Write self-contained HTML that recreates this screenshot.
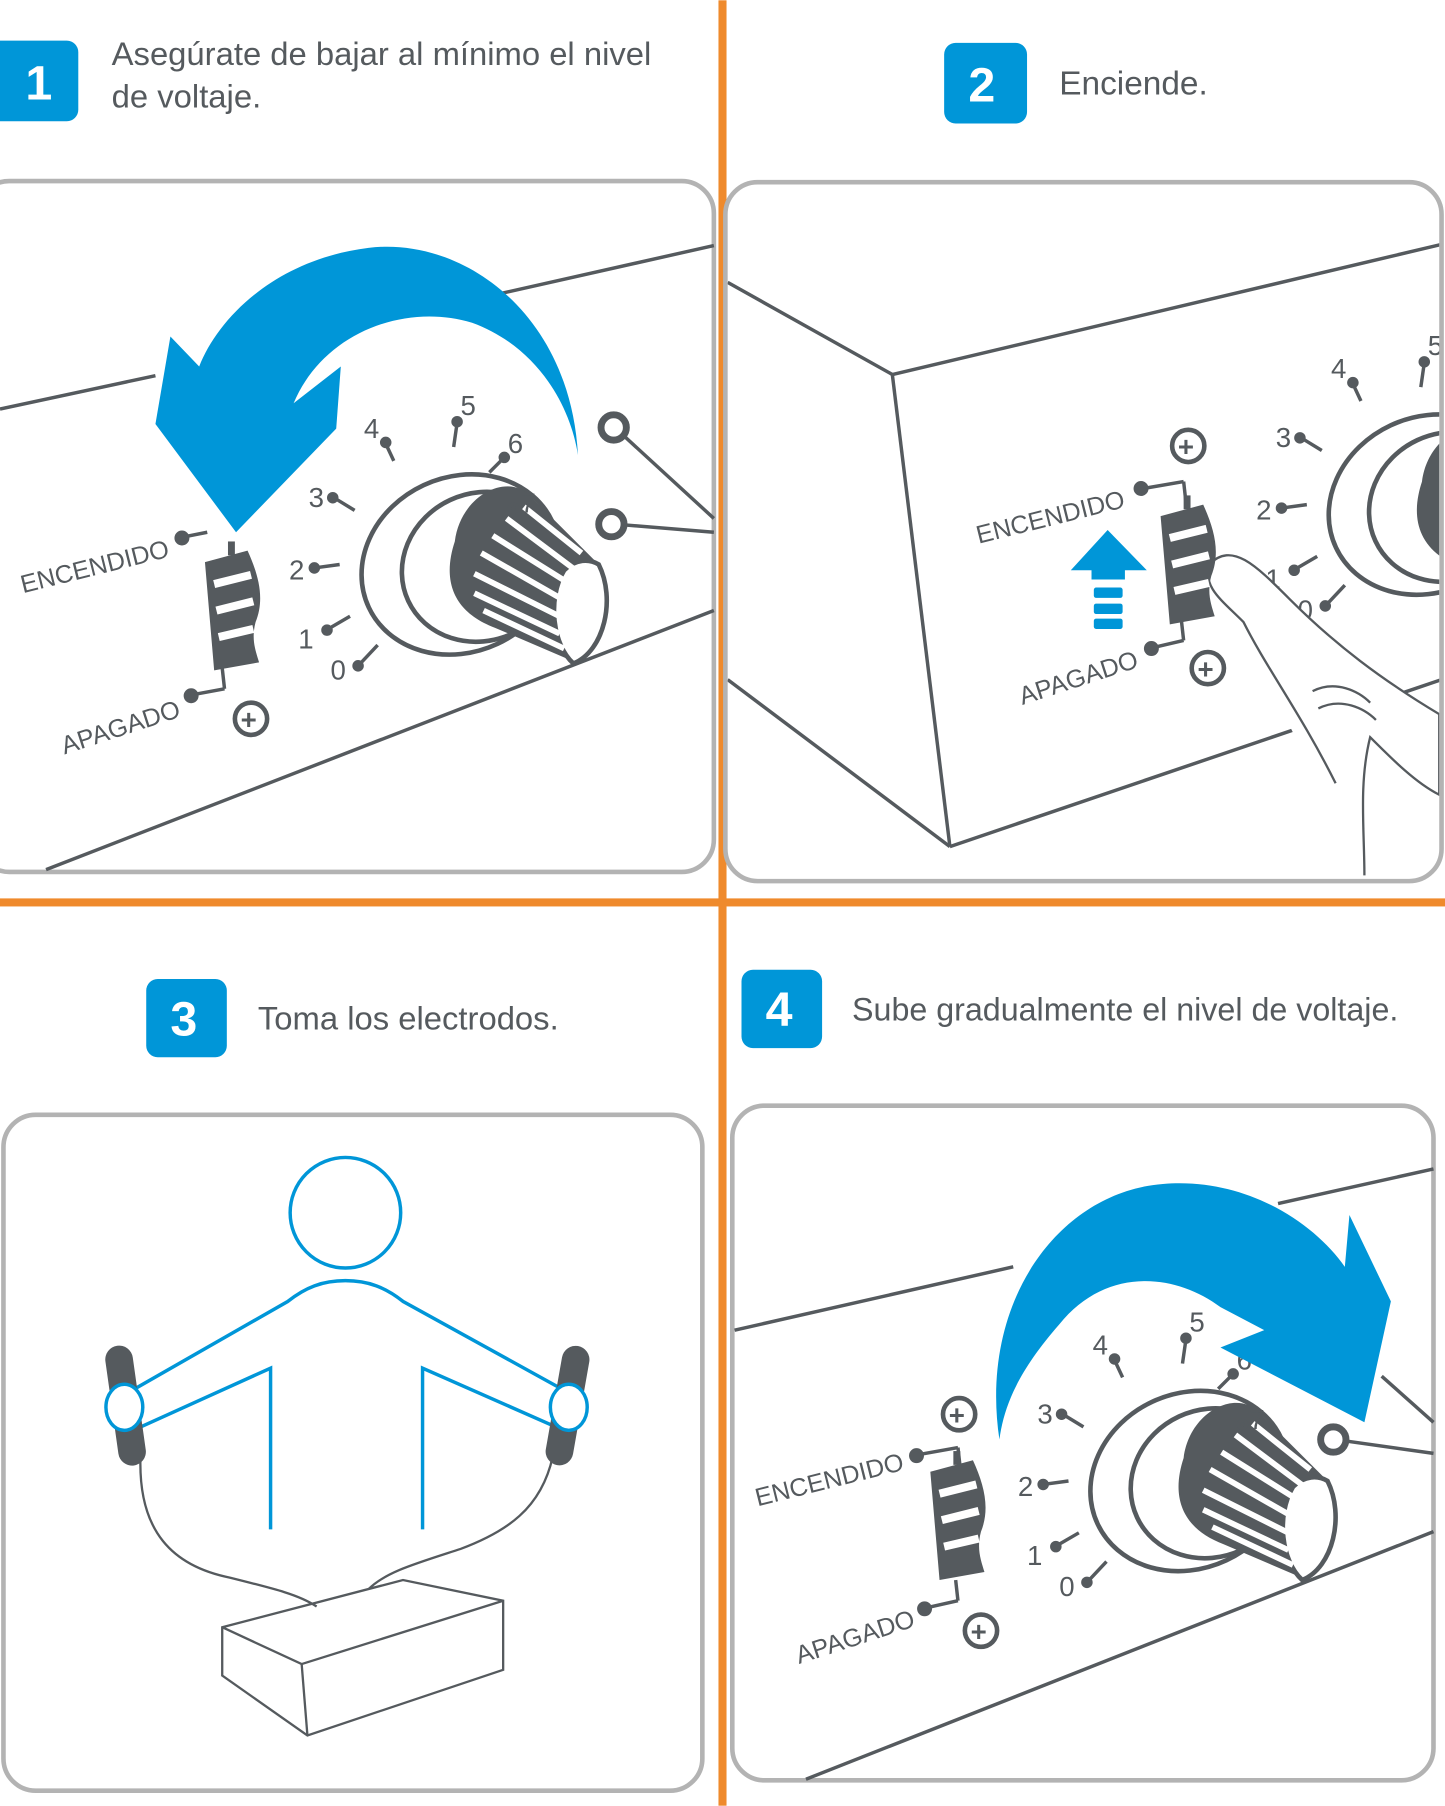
<!DOCTYPE html>
<html><head><meta charset="utf-8"><style>
html,body{margin:0;padding:0;background:#fff;}
svg{display:block;}
text{font-family:"Liberation Sans",sans-serif;}
</style></head><body>
<svg width="1445" height="1806" viewBox="0 0 1255 1568" xmlns="http://www.w3.org/2000/svg">
<defs>
<clipPath id="c2"><rect x="632" y="160" width="618" height="603" rx="26"/></clipPath>
<g id="knob">
  <ellipse cx="400" cy="490" rx="88" ry="76" transform="rotate(-25 400 490)" fill="#fff" stroke="#555a5e" stroke-width="4"/>
  <ellipse cx="418" cy="492" rx="70" ry="64" transform="rotate(-25 418 492)" fill="#fff" stroke="#555a5e" stroke-width="4"/>
  <path d="M395,470 C400,430 440,410 460,430 L520,490 C535,520 520,560 500,575 L430,545 C390,530 385,500 395,470 Z" fill="#555a5e"/>
  <path d="M520,490 C535,520 525,565 498,576 C480,560 475,520 490,495 C500,485 512,485 520,490 Z" fill="#fff" stroke="#555a5e" stroke-width="4"/>
  <g stroke="#fff" stroke-width="5">
    <line x1="455" y1="440" x2="505" y2="480"/><line x1="440" y1="450" x2="500" y2="495"/>
    <line x1="428" y1="465" x2="492" y2="505"/><line x1="418" y1="480" x2="488" y2="520"/>
    <line x1="412" y1="498" x2="486" y2="535"/><line x1="412" y1="515" x2="486" y2="550"/>
    <line x1="420" y1="530" x2="490" y2="563"/>
  </g>
  <g stroke="#555a5e" stroke-width="3" fill="#555a5e">
    <line x1="312" y1="577" x2="328" y2="560"/><circle cx="311" cy="578" r="3.5"/>
    <line x1="285" y1="546" x2="304" y2="535"/><circle cx="284" cy="547" r="3.5"/>
    <line x1="273" y1="493" x2="295" y2="490"/><circle cx="273" cy="493" r="3.5"/>
    <line x1="290" y1="432" x2="308" y2="443"/><circle cx="289" cy="432" r="3.5"/>
    <line x1="335" y1="385" x2="342" y2="400"/><circle cx="335" cy="384" r="3.5"/>
    <line x1="397" y1="367" x2="394" y2="388"/><circle cx="397" cy="366" r="3.5"/>
    <line x1="437" y1="398" x2="425" y2="410"/><circle cx="438" cy="397" r="3.5"/>
    <circle cx="446" cy="441" r="3.5"/>
  </g>
  <g font-size="24" fill="#555a5e">
    <text x="287" y="590">0</text><text x="259" y="563">1</text><text x="251" y="503">2</text>
    <text x="268" y="440">3</text><text x="316" y="380">4</text><text x="400" y="360">5</text>
    <text x="441" y="393">6</text><text x="452" y="445">7</text>
  </g>
</g>
<g id="switch">
  <path d="M178,488 L215,478 C225,500 230,520 222,540 C218,555 222,565 225,575 L186,582 Z" fill="#555a5e"/>
  <g stroke="#fff" stroke-width="7"><line x1="186" y1="507" x2="218" y2="499"/><line x1="188" y1="530" x2="220" y2="522"/><line x1="190" y1="553" x2="220" y2="546"/></g>
  <rect x="198" y="470" width="6" height="12" fill="#555a5e"/>
</g>
</defs>

<rect x="624" y="0" width="7" height="1568" fill="#ef8a2c"/>
<rect x="0" y="780" width="1255" height="7" fill="#ef8a2c"/>

<g font-size="29" fill="#555a5e">
<rect x="-10" y="35" width="78" height="70" rx="10" fill="#0096d8"/>
<text x="22" y="86" font-size="42" font-weight="bold" fill="#fff">1</text>
<text x="97" y="56" font-size="28.5">Asegúrate de bajar al mínimo el nivel</text>
<text x="97" y="93" font-size="28.5">de voltaje.</text>
<rect x="820" y="37" width="72" height="70" rx="10" fill="#0096d8"/>
<text x="841" y="88" font-size="42" font-weight="bold" fill="#fff">2</text>
<text x="920" y="82">Enciende.</text>
<rect x="127" y="850" width="70" height="68" rx="10" fill="#0096d8"/>
<text x="148" y="899" font-size="42" font-weight="bold" fill="#fff">3</text>
<text x="224" y="894" font-size="28.5">Toma los electrodos.</text>
<rect x="644" y="842" width="70" height="68" rx="10" fill="#0096d8"/>
<text x="665" y="891" font-size="42" font-weight="bold" fill="#fff">4</text>
<text x="740" y="886" font-size="28">Sube gradualmente el nivel de voltaje.</text>
</g>

<!-- Panel 1 -->
<g>
<rect x="-20" y="157" width="640" height="600" rx="28" fill="#fff" stroke="#b3b3b3" stroke-width="4"/>
<g stroke="#555a5e" stroke-width="3" fill="none">
<line x1="0" y1="355" x2="135" y2="326"/><line x1="300" y1="285" x2="620" y2="213"/>
<line x1="40" y1="755" x2="620" y2="530"/>
<line x1="535" y1="372" x2="620" y2="450"/><line x1="535" y1="455" x2="620" y2="462"/>
</g>
<circle cx="533" cy="371" r="11" fill="#fff" stroke="#555a5e" stroke-width="6"/>
<circle cx="531" cy="455" r="11" fill="#fff" stroke="#555a5e" stroke-width="6"/>
<use href="#knob"/>
<path d="M502,395 C495,270 400,205 320,215 C240,225 190,275 173,318 L148,292 L135,368 L205,462 L292,372 L296,318 L255,350 C280,290 350,262 410,280 C465,300 495,350 502,395 Z" fill="#0096d8"/>
<use href="#switch"/>
<g stroke="#555a5e" stroke-width="3" fill="#555a5e">
<line x1="160" y1="466" x2="180" y2="462"/><circle cx="158" cy="467" r="5"/>
<line x1="168" y1="603" x2="195" y2="598"/><line x1="195" y1="598" x2="193" y2="580"/><circle cx="166" cy="604" r="5"/>
</g>
<circle cx="218" cy="624" r="14" fill="#fff" stroke="#555a5e" stroke-width="4"/>
<text x="209" y="633" font-size="24" font-weight="bold" fill="#555a5e">+</text>
<text x="20" y="515" font-size="22" fill="#555a5e" transform="rotate(-14 20 515)">ENCENDIDO</text>
<text x="56" y="655" font-size="22" fill="#555a5e" transform="rotate(-18 56 655)">APAGADO</text>
</g>

<!-- Panel 2 -->
<g>
<rect x="630" y="158" width="622" height="607" rx="28" fill="#fff" stroke="#b3b3b3" stroke-width="4"/>
<g clip-path="url(#c2)">
<g stroke="#555a5e" stroke-width="3" fill="none">
<line x1="632" y1="245" x2="775" y2="325"/><line x1="775" y1="325" x2="1252" y2="212"/>
<line x1="775" y1="325" x2="825" y2="735"/><line x1="632" y1="590" x2="825" y2="735"/>
<line x1="825" y1="735" x2="1252" y2="590"/>
</g>
<g transform="translate(840,-52)"><use href="#knob"/></g>
<path d="M1050,490 C1070,470 1090,490 1120,520 C1160,560 1200,590 1250,620 L1250,690 C1230,680 1210,660 1190,640 C1180,680 1185,720 1185,760" fill="#fff" stroke="#555a5e" stroke-width="2"/>
<path d="M1050,490 C1045,510 1060,520 1080,540 C1100,580 1130,620 1160,680" fill="none" stroke="#555a5e" stroke-width="2"/>
<path d="M1140,600 C1160,590 1180,600 1190,610 M1145,615 C1165,605 1185,615 1195,625" fill="none" stroke="#555a5e" stroke-width="2"/>
</g>
<g transform="translate(830,-40)"><use href="#switch"/></g>
<path d="M930,495 L962,460 L996,495 L977,495 L977,503 L948,503 L948,495 Z" fill="#0096d8"/>
<rect x="950" y="510" width="25" height="9" rx="2" fill="#0096d8"/>
<rect x="950" y="524" width="25" height="9" rx="2" fill="#0096d8"/>
<rect x="950" y="537" width="25" height="9" rx="2" fill="#0096d8"/>
<g stroke="#555a5e" stroke-width="3" fill="#555a5e">
<line x1="993" y1="424" x2="1028" y2="418"/><line x1="1028" y1="418" x2="1030" y2="436"/><circle cx="991" cy="424" r="5"/>
<line x1="1002" y1="562" x2="1028" y2="556"/><line x1="1028" y1="556" x2="1026" y2="538"/><circle cx="1000" cy="563" r="5"/>
</g>
<circle cx="1032" cy="387" r="14" fill="#fff" stroke="#555a5e" stroke-width="4"/><text x="1023" y="396" font-size="24" font-weight="bold" fill="#555a5e">+</text>
<circle cx="1049" cy="580" r="14" fill="#fff" stroke="#555a5e" stroke-width="4"/><text x="1040" y="589" font-size="24" font-weight="bold" fill="#555a5e">+</text>
<text x="850" y="472" font-size="22" fill="#555a5e" transform="rotate(-14 850 472)">ENCENDIDO</text>
<text x="888" y="612" font-size="22" fill="#555a5e" transform="rotate(-18 888 612)">APAGADO</text>
</g>

<!-- Panel 3 -->
<g>
<rect x="3" y="968" width="607" height="587" rx="28" fill="#fff" stroke="#b3b3b3" stroke-width="4"/>
<circle cx="300" cy="1053" r="48" fill="none" stroke="#0096d8" stroke-width="3"/>
<g stroke="#0096d8" stroke-width="3" fill="none">
<path d="M110,1210 L250,1130 C265,1118 280,1112 300,1112 C320,1112 335,1118 350,1130 L495,1210"/>
<path d="M120,1240 L235,1188 L235,1328"/>
<path d="M485,1240 L367,1188 L367,1328"/>
</g>
<g stroke="#555a5e" stroke-width="2" fill="none">
<path d="M122,1265 C120,1330 150,1360 200,1370 C240,1380 260,1385 275,1395"/>
<path d="M480,1265 C470,1310 440,1330 400,1345 C360,1358 335,1365 320,1380"/>
<polygon points="193,1413 350,1372 437,1390 437,1450 267,1507 193,1455"/>
<polyline points="193,1413 262,1445 437,1390"/><line x1="262" y1="1445" x2="267" y2="1507"/>
</g>
<rect x="97" y="1168" width="24" height="105" rx="12" fill="#555a5e" transform="rotate(-8 109 1220)"/>
<rect x="481" y="1168" width="24" height="105" rx="12" fill="#555a5e" transform="rotate(10 493 1220)"/>
<ellipse cx="108" cy="1222" rx="16" ry="20" fill="#fff" stroke="#0096d8" stroke-width="3"/>
<ellipse cx="494" cy="1222" rx="16" ry="20" fill="#fff" stroke="#0096d8" stroke-width="3"/>
</g>

<!-- Panel 4 -->
<g>
<rect x="636" y="960" width="609" height="586" rx="28" fill="#fff" stroke="#b3b3b3" stroke-width="4"/>
<g stroke="#555a5e" stroke-width="3" fill="none">
<line x1="638" y1="1155" x2="880" y2="1100"/><line x1="1110" y1="1045" x2="1245" y2="1015"/>
<line x1="700" y1="1545" x2="1245" y2="1330"/>
<line x1="1160" y1="1250" x2="1245" y2="1262"/><line x1="1200" y1="1195" x2="1245" y2="1235"/>
</g>
<circle cx="1158" cy="1250" r="11" fill="#fff" stroke="#555a5e" stroke-width="6"/>
<g transform="translate(633,796)"><use href="#knob"/></g>
<path d="M868,1250 C850,1130 920,1035 1010,1028 C1080,1022 1140,1060 1168,1100 L1172,1055 L1208,1130 L1185,1235 L1060,1170 L1098,1155 L1060,1135 C1020,1105 960,1100 920,1150 C885,1190 872,1220 868,1250 Z" fill="#0096d8"/>
<g transform="translate(630,790)"><use href="#switch"/></g>
<g stroke="#555a5e" stroke-width="3" fill="#555a5e">
<line x1="798" y1="1263" x2="832" y2="1257"/><line x1="832" y1="1257" x2="834" y2="1275"/><circle cx="796" cy="1264" r="5"/>
<line x1="805" y1="1396" x2="832" y2="1390"/><line x1="832" y1="1390" x2="830" y2="1372"/><circle cx="803" cy="1397" r="5"/>
</g>
<circle cx="833" cy="1228" r="14" fill="#fff" stroke="#555a5e" stroke-width="4"/><text x="824" y="1237" font-size="24" font-weight="bold" fill="#555a5e">+</text>
<circle cx="852" cy="1416" r="14" fill="#fff" stroke="#555a5e" stroke-width="4"/><text x="843" y="1425" font-size="24" font-weight="bold" fill="#555a5e">+</text>
<text x="658" y="1308" font-size="22" fill="#555a5e" transform="rotate(-14 658 1308)">ENCENDIDO</text>
<text x="694" y="1445" font-size="22" fill="#555a5e" transform="rotate(-18 694 1445)">APAGADO</text>
</g>
</svg>
</body></html>
